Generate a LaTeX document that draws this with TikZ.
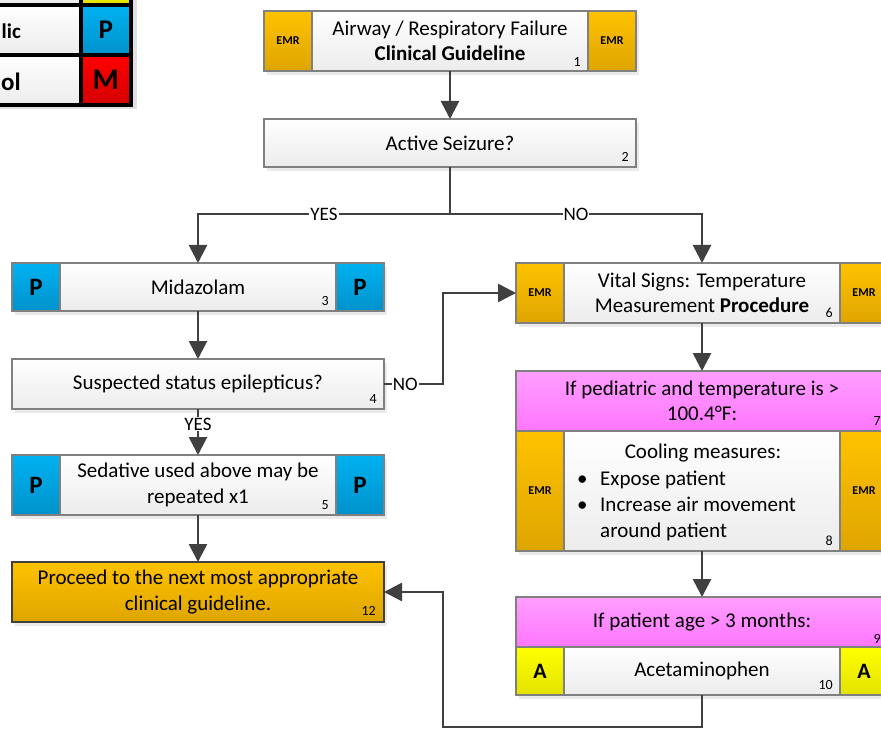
\documentclass[tikz,border=0pt]{standalone}
\usepackage{fontspec}
\setmainfont{Carlito}
\usetikzlibrary{arrows.meta,shadows,calc}

% palette
\definecolor{emrtop}{RGB}{255,194,0}
\definecolor{emrbot}{RGB}{222,165,0}
\definecolor{ptop}{RGB}{0,178,240}
\definecolor{pbot}{RGB}{0,146,204}
\definecolor{atop}{RGB}{255,255,0}
\definecolor{abot}{RGB}{226,226,0}
\definecolor{mtop}{RGB}{255,0,0}
\definecolor{mbot}{RGB}{212,0,0}
\definecolor{pinktop}{RGB}{255,158,255}
\definecolor{pinkbot}{RGB}{255,118,255}
\definecolor{wbot}{RGB}{236,236,236}
\definecolor{boxline}{RGB}{128,128,128}
\definecolor{conncol}{RGB}{64,64,64}

\newcommand\bodysize{\fontsize{21pt}{25.5pt}\selectfont}
\newcommand\numsize{\fontsize{14pt}{14pt}\selectfont}
\newcommand\emrsize{\fontsize{12pt}{12pt}\selectfont\bfseries}
\newcommand\lvlsize{\fontsize{25pt}{25pt}\selectfont\bfseries}
\newcommand\lblsize{\fontsize{19pt}{19pt}\selectfont}

\tikzset{
  boxbase/.style={draw=boxline, line width=1.3pt, inner sep=0pt, outer sep=0pt,
    align=center, font=\bodysize,
    drop shadow={opacity=0.16, shadow xshift=3pt, shadow yshift=-4pt}},
  whitebox/.style={boxbase, top color=white, bottom color=wbot},
  pinkbox/.style={boxbase, top color=pinktop, bottom color=pinkbot},
  emrbox/.style={boxbase, top color=emrtop, bottom color=emrbot, font=\emrsize,
    minimum width=48pt},
  pbox/.style={boxbase, top color=ptop, bottom color=pbot, font=\lvlsize,
    minimum width=48pt},
  abox/.style={boxbase, top color=atop, bottom color=abot,
    font=\fontsize{22pt}{22pt}\selectfont\bfseries, minimum width=48pt},
  endbox/.style={boxbase, draw=conncol, line width=2.6pt, top color=emrtop,
    bottom color=emrbot},
  num/.style={font=\numsize, inner sep=0pt, anchor=south east},
  txt/.style={font=\bodysize, inner sep=0pt},
  lbl/.style={font=\lblsize, fill=white, inner sep=1pt},
  link/.style={draw=conncol, line width=2.7pt},
  conn/.style={link, -{Triangle[length=18pt,width=18pt]}},
  legcell/.style={draw=black, line width=4pt, inner sep=0pt, outer sep=0pt,
    minimum height=50pt},
}

\begin{document}
\begin{tikzpicture}[x=1pt,y=-1pt]
\useasboundingbox (0,0) rectangle (881,730);
\clip (0,0) rectangle (881,730);
\fill[white] (0,0) rectangle (881,730);

% ---- level legend ----
\fill[black!20, opacity=0.6] (-110,-50) rectangle (137,109);
\node[legcell, minimum width=182pt, top color=white, bottom color=wbot] (lgla) at (-10,-20) {};
\node[legcell, minimum width=182pt, top color=white, bottom color=wbot] (lglb) at (-10,30) {};
\node[legcell, minimum width=182pt, top color=white, bottom color=wbot] (lglc) at (-10,80) {};
\node[legcell, minimum width=49.5pt, top color=atop, bottom color=abot] (lgra) at (105.75,-20) {};
\node[legcell, minimum width=49.5pt, top color=ptop, bottom color=pbot,
      font=\fontsize{27pt}{27pt}\selectfont\bfseries] (lgrb) at (105.75,30) {P};
\node[legcell, minimum width=49.5pt, top color=mtop, bottom color=mbot,
      font=\fontsize{30pt}{30pt}\selectfont\bfseries] (lgrc) at (105.75,80) {M};
\node[anchor=base east, inner sep=0pt, font=\fontsize{21pt}{21pt}\selectfont\bfseries]
      (lgtb) at (21,39) {lic};
\node[anchor=base east, inner sep=0pt, font=\fontsize{25pt}{25pt}\selectfont\bfseries]
      (lgtc) at (21,91) {ol};

% ---- left column ----
\node[emrbox, minimum height=60pt] (b1l) at (288,41) {EMR};
\node[whitebox, minimum width=276pt, minimum height=60pt] (b1) at (450,41)
  {Airway / Respiratory Failure\\\textbf{Clinical Guideline}};
\node[emrbox, minimum height=60pt] (b1r) at (612,41) {EMR};
\node[num] (n1) at ([xshift=-7pt,yshift=4pt]b1.south east) {1};

\node[whitebox, minimum width=372pt, minimum height=48pt] (b2) at (450,143) {Active Seizure?};
\node[num] (n2) at ([xshift=-7pt,yshift=5pt]b2.south east) {2};

\node[pbox, minimum height=48pt] (b3l) at (36,287) {P};
\node[whitebox, minimum width=276pt, minimum height=48pt] (b3) at (198,287) {Midazolam};
\node[pbox, minimum height=48pt] (b3r) at (360,287) {P};
\node[num] (n3) at ([xshift=-7pt,yshift=5pt]b3.south east) {3};

\node[whitebox, minimum width=372pt, minimum height=50pt] (b4) at (198,384)
  {Suspected status epilepticus?};
\node[num] (n4) at ([xshift=-7pt,yshift=5pt]b4.south east) {4};

\node[pbox, minimum height=60pt] (b5l) at (36,485) {P};
\node[whitebox, minimum width=276pt, minimum height=60pt] (b5) at (198,485)
  {Sedative used above may be\\repeated x1};
\node[pbox, minimum height=60pt] (b5r) at (360,485) {P};
\node[num] (n5) at ([xshift=-7pt,yshift=5pt]b5.south east) {5};

\node[endbox, minimum width=372pt, minimum height=60pt] (b12) at (198,592)
  {Proceed to the next most appropriate\\clinical guideline.};
\node[num] (n12) at ([xshift=-8pt,yshift=6pt]b12.south east) {12};

% ---- right column ----
\node[emrbox, minimum height=60pt] (b6l) at (540,293) {EMR};
\node[whitebox, minimum width=276pt, minimum height=60pt] (b6) at (702,293)
  {Vital Signs: Temperature\\Measurement \textbf{Procedure}};
\node[emrbox, minimum height=60pt] (b6r) at (864,293) {EMR};
\node[num] (n6) at ([xshift=-7pt,yshift=5pt]b6.south east) {6};

\node[pinkbox, minimum width=372pt, minimum height=60pt] (b7) at (702,401)
  {If pediatric and temperature is >\\100.4°F:};
\node[num] (n7) at ([xshift=-7pt,yshift=5pt]b7.south east) {7};

\node[emrbox, minimum height=120pt] (b8l) at (540,491) {EMR};
\node[whitebox, minimum width=276pt, minimum height=120pt] (b8) at (702,491) {};
\node[emrbox, minimum height=120pt] (b8r) at (864,491) {EMR};
\node[txt, anchor=base] (b8h) at (703,458) {Cooling measures:};
\node[txt, anchor=base west] (b8a) at (577,485) {\makebox[23pt][l]{\textbullet}Expose patient};
\node[txt, anchor=base west] (b8b) at (577,511) {\makebox[23pt][l]{\textbullet}Increase air movement};
\node[txt, anchor=base west] (b8c) at (600,537) {around patient};
\node[num] (n8) at ([xshift=-7pt,yshift=5pt]b8.south east) {8};

\node[pinkbox, minimum width=372pt, minimum height=50pt] (b9) at (702,622)
  {If patient age > 3 months:};
\node[num] (n9) at ([xshift=-7pt,yshift=3pt]b9.south east) {9};

\node[abox, minimum height=48pt] (b10l) at (540,671) {A};
\node[whitebox, minimum width=276pt, minimum height=48pt] (b10) at (702,671) {Acetaminophen};
\node[abox, minimum height=48pt] (b10r) at (864,671) {A};
\node[num] (n10) at ([xshift=-7pt,yshift=5pt]b10.south east) {10};

% ---- connectors ----
\coordinate (split) at (450,214);
\coordinate (c4) at (443,384);
\coordinate (c10) at (443,727);

\draw[conn] (b1.south) -- (b2.north);
\draw[link] (b2.south) -- (split);
\draw[conn] (split) -| node[lbl, pos=0.25] (yes1) {YES} (b3.north);
\draw[conn] (split) -| node[lbl, pos=0.25] (no1) {NO} (b6.north);
\draw[conn] (b3.south) -- (b4.north);
\draw[conn] (b4.east) -- node[lbl, pos=0.36] (no2) {NO} (c4) |- (b6l.west);
\draw[conn] (b4.south) -- node[lbl, pos=0.33] (yes2) {YES} (b5.north);
\draw[conn] (b5.south) -- (b12.north);
\draw[conn] (b6.south) -- (b7.north);
\draw[conn] (b8.south) -- (b9.north);
\draw[conn] (b10.south) |- (c10) |- (b12.east);
\end{tikzpicture}
\end{document}
